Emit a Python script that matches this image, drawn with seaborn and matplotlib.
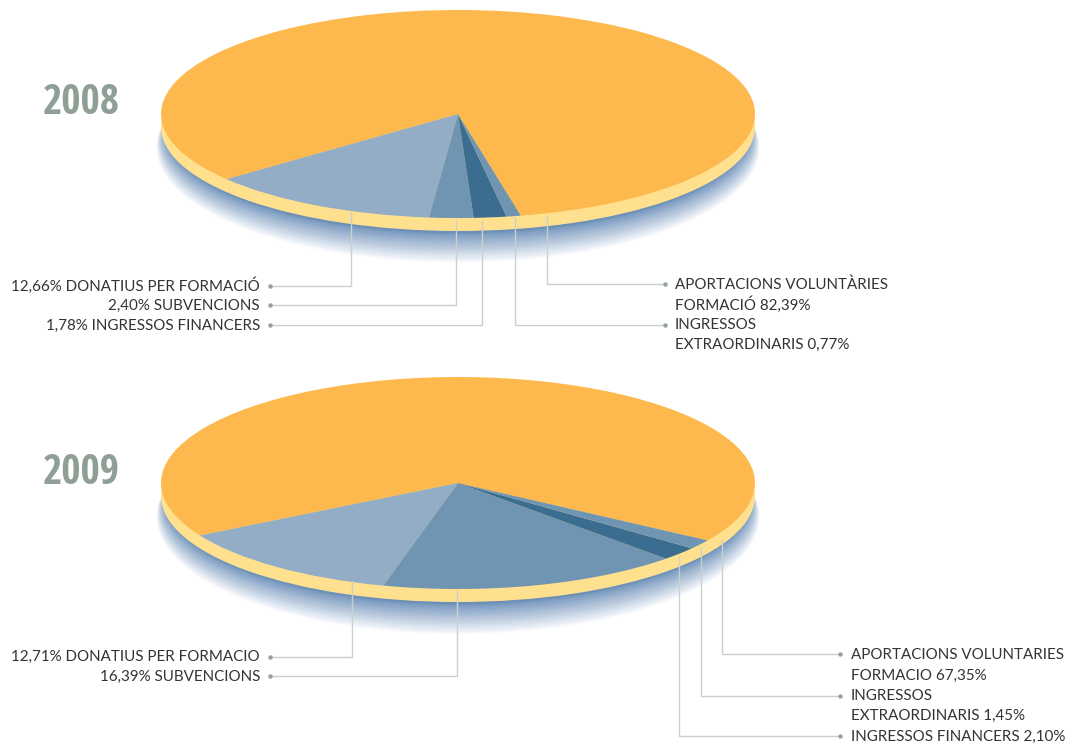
import matplotlib
matplotlib.use('Agg')
import matplotlib.pyplot as plt
from matplotlib.patches import Ellipse
import seaborn as sns

WIDTH, HEIGHT = 1083, 744

years = ['2008', '2009']
# order follows the pie, counter clockwise from the big orange slice
slices = ['aportacions', 'donatius', 'subvencions', 'financers', 'extraordinaris']
values_2008 = [82.39, 12.66, 2.40, 1.78, 0.77]
values_2009 = [67.35, 12.71, 16.39, 2.10, 1.45]
palette = ['#FDB94D', '#92ADC5', '#7095B3', '#3A6D90', '#7095B3']

sns.set_theme(style='white')
plt.rcParams['font.family'] = ['Lato', 'DejaVu Sans']

fig = plt.figure(figsize=(WIDTH / 100, HEIGHT / 100), dpi=100)
bg = fig.add_axes([0, 0, 1, 1], zorder=3)
bg.set_xlim(0, WIDTH)
bg.set_ylim(HEIGHT, 0)
bg.axis('off')
bg.patch.set_alpha(0)


def draw_pie(values, start, cx, cy, rx, ry, depth=13):
    ax = fig.add_axes([(cx - rx) / WIDTH, 1 - (cy + ry) / HEIGHT, 2 * rx / WIDTH, 2 * ry / HEIGHT])
    # soft blue shadow, many faint ellipses stacked up (denser towards the rim)
    d = depth / ry
    n = 60
    for i in range(n):
        f = (1 - i / (n - 1)) ** 2
        e = Ellipse((0.0, -d - 0.03 - 0.17 * f),
                    2 * (0.985 + 0.03 * f), 2 * (0.985 + 0.12 * f),
                    fc='#5A86B8', ec='none', alpha=0.028, clip_on=False)
        ax.add_patch(e)
    ax.pie([1], colors=['#FFE08F'], radius=1, center=(0, -d),
           wedgeprops={'linewidth': 0, 'clip_on': False})
    ax.pie(values, colors=palette, radius=1, startangle=start, counterclock=True,
           wedgeprops={'linewidth': 0, 'clip_on': False})
    ax.set_aspect('auto')
    ax.set_xlim(-1, 1)
    ax.set_ylim(-1, 1)
    ax.axis('off')
    return ax


draw_pie(values_2008, -77.8, 458, 114, 297, 104)
draw_pie(values_2009, -32.8, 458, 483, 297, 106)

GREY = '#8E9F96'
LINE = '#C9D1CF'
TXT = '#333333'


def leader(x, y0, y1, x_end):
    bg.plot([x, x, x_end], [y0, y1, y1], color=LINE, lw=1.0, solid_joinstyle='miter')
    bg.plot([x_end], [y1], 'o', ms=3.2, color='#93A39C', mec='none')


def label(x, y, s, ha='left'):
    bg.text(x, y + 1, s, ha=ha, va='center', fontsize=10.9, color=TXT)


for year, y in zip(years, [103, 474]):
    bg.text(81, y, year, ha='center', va='center', color=GREY, fontsize=30,
            fontweight='bold', family='Open Sans Condensed')

# 2008
leader(351, 212, 286, 270)
leader(456, 221, 305, 270)
leader(482, 221, 325, 270)
leader(515, 218, 325, 665)
leader(547, 216, 284, 665)
label(260, 285, '12,66% DONATIUS PER FORMACIÓ', 'right')
label(260, 305, '2,40% SUBVENCIONS', 'right')
label(260, 325, '1,78% INGRESSOS FINANCERS', 'right')
label(675, 284, 'APORTACIONS VOLUNTÀRIES')
label(675, 304, 'FORMACIÓ 82,39%')
label(675, 324, 'INGRESSOS')
label(675, 344, 'EXTRAORDINARIS 0,77%')

# 2009
leader(352, 581, 657, 270)
leader(457, 590, 676, 270)
leader(679, 556, 736, 840)
leader(701, 548, 696, 840)
leader(722, 540, 654, 840)
label(260, 656, '12,71% DONATIUS PER FORMACIO', 'right')
label(260, 676, '16,39% SUBVENCIONS', 'right')
label(851, 654, 'APORTACIONS VOLUNTARIES')
label(851, 675, 'FORMACIO 67,35%')
label(851, 695, 'INGRESSOS')
label(851, 715, 'EXTRAORDINARIS 1,45%')
label(851, 736, 'INGRESSOS FINANCERS 2,10%')

fig.savefig('out.png', dpi=100)
